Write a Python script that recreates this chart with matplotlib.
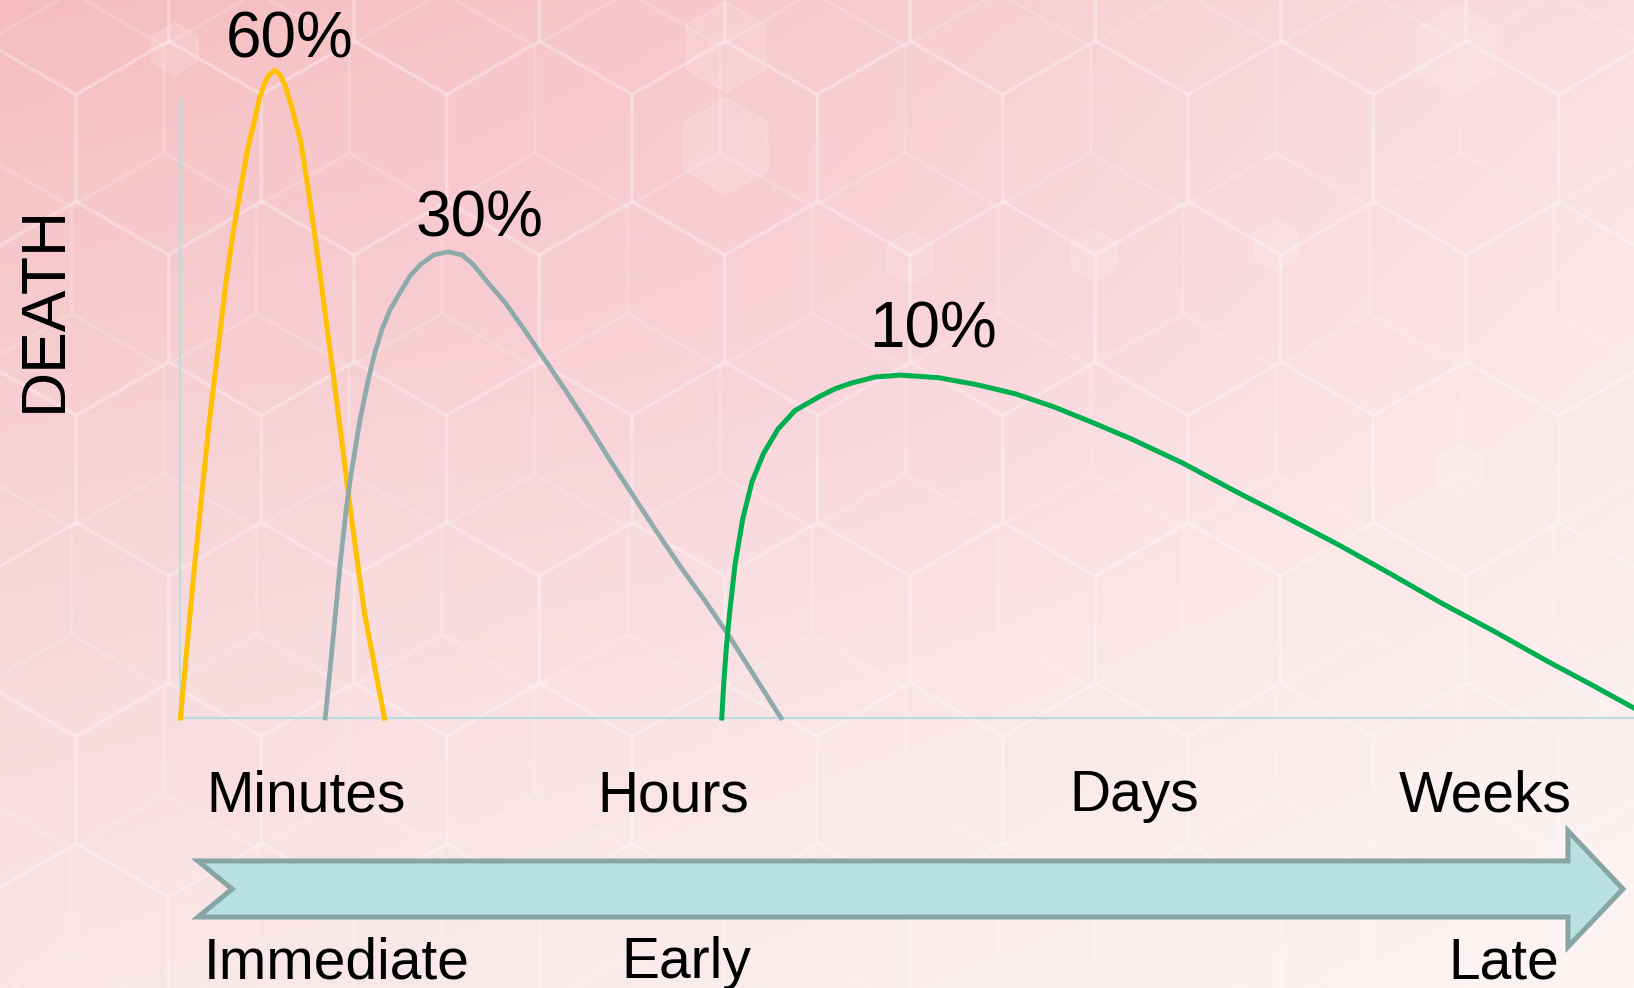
import numpy as np
import matplotlib
matplotlib.use('Agg')
from matplotlib import pyplot as plt
from matplotlib.patches import Polygon, RegularPolygon

plt.rcParams['font.family'] = ['Liberation Sans', 'DejaVu Sans']

# curves: x = time position (0..100), y = relative height (y-axis = 1)
fast_x = [0.03, 1.0, 1.99, 2.61, 3.16, 3.65, 4.17, 4.61, 5.16, 5.50, 5.78, 6.05, 6.51,
          6.88, 7.22, 7.70, 8.30, 8.80, 9.28, 10.57, 11.80, 12.69, 14.06]
fast_y = [0.0, 0.245, 0.473, 0.594, 0.702, 0.782, 0.853, 0.913, 0.968, 1.002, 1.021, 1.035, 1.045,
          1.037, 1.021, 0.984, 0.930, 0.856, 0.777, 0.549, 0.321, 0.169, 0.0]

early_x = [9.99, 10.52, 11.0, 11.42, 11.79, 12.38, 12.98, 13.41, 13.88, 14.44, 15.13, 15.82, 16.57,
           17.47, 18.43, 19.39, 20.15, 21.18, 22.33, 23.66, 25.03, 26.55, 28.06, 29.57, 31.16,
           32.74, 34.39, 36.11, 37.80, 39.55, 41.33]
early_y = [0.0, 0.126, 0.245, 0.335, 0.397, 0.481, 0.549, 0.590, 0.626, 0.658, 0.686, 0.713, 0.732,
           0.747, 0.752, 0.747, 0.732, 0.702, 0.671, 0.627, 0.580, 0.527, 0.473, 0.416, 0.359,
           0.302, 0.245, 0.189, 0.131, 0.066, 0.0]

late_x = [37.26, 37.41, 37.59, 37.80, 38.17, 38.70, 39.34, 40.14, 41.13, 42.30, 44.02, 45.05, 46.15,
          47.80, 49.55, 52.13, 54.73, 57.43, 60.08, 62.72, 65.44, 68.98, 72.56, 76.13, 79.71,
          83.29, 86.86, 90.44, 94.01, 96.97, 100.0]
late_y = [0.0, 0.061, 0.118, 0.169, 0.247, 0.321, 0.381, 0.427, 0.466, 0.496, 0.519, 0.531, 0.540,
          0.550, 0.553, 0.549, 0.538, 0.523, 0.502, 0.477, 0.450, 0.411, 0.366, 0.323, 0.279,
          0.232, 0.184, 0.139, 0.092, 0.055, 0.016]

peak_labels = ['60%', '30%', '10%']
peak_label_x = [7.51, 20.6, 51.82]
peak_label_y = [1.066, 0.777, 0.598]

time_labels = ['Minutes', 'Hours', 'Days', 'Weeks']
time_label_x = [1.79, 28.68, 61.2, 83.84]
phase_labels = ['Immediate', 'Early', 'Late']
phase_label_x = [1.65, 30.33, 87.21]

W, H = 1634, 988
fig = plt.figure(figsize=(W / 100, H / 100), dpi=100)

# --- background: pink gradient + faint hexagons (pixel coordinates)
bg = fig.add_axes([0, 0, 1, 1])
u = np.linspace(0, 1, 400)[None, :, None]
v = np.linspace(0, 1, 240)[:, None, None]
tl = np.array([245, 188, 190]); tr = np.array([249, 222, 225])
bl = np.array([249, 229, 231]); br = np.array([253, 245, 244])
top = tl * (1 - u) + tr * u
bot = bl * (1 - u) + br * u
vv = v ** 0.8
img = (top * (1 - vv) + bot * vv) / 255.0
# a bit more pink in the upper middle
blob = np.exp(-(((u - 0.45) / 0.35) ** 2 + ((v - 0.3) / 0.3) ** 2))
img = img - blob * np.array([0.0, 0.03, 0.015])
bg.imshow(np.clip(img, 0, 1), extent=(0, W, H, 0), aspect='auto', interpolation='bilinear')

R = 107
dx = R * np.sqrt(3)
for cx0, cy0, a in [(910, 469, 0.17), (1276, 260, 0.09)]:
    for r in range(-4, 6):
        for k in range(-7, 8):
            cx = cx0 + k * dx + (dx / 2 if r % 2 else 0)
            cy = cy0 + r * 1.5 * R
            if -R < cx < W + R and -R < cy < H + R:
                bg.add_patch(RegularPolygon((cx, cy), 6, radius=R, orientation=0,
                                            fill=False, ec='white', lw=2.5, alpha=a))
for cx, cy, rr in [(175, 49, 26), (910, 258, 26), (1094, 255, 26), (726, 47, 45),
                   (726, 146, 48), (1457, 50, 45), (1460, 470, 26), (1276, 245, 25)]:
    bg.add_patch(RegularPolygon((cx, cy), 6, radius=rr, orientation=0,
                                fc='white', ec='white', lw=2, alpha=0.13))
bg.set_xlim(0, W)
bg.set_ylim(H, 0)
bg.axis('off')

# --- main chart
X0, XS, Y0, YS = 180, 14.54, 718, 620
ax = fig.add_axes([0, 0, 1, 1])
ax.patch.set_alpha(0)
ax.set_xlim(-X0 / XS, (W - X0) / XS)
ax.set_ylim(-(H - Y0) / YS, Y0 / YS)
ax.axis('off')

axis_c = '#BCDDE0'
ax.plot([0, 100], [0, 0], color=axis_c, lw=1.6, solid_capstyle='butt', zorder=2)
ax.plot([0, 0], [0, 1], color=axis_c, lw=1.6, solid_capstyle='butt', zorder=2)

ax.plot(fast_x, fast_y, color='#FFC000', lw=3.6, solid_joinstyle='round', zorder=3)
ax.plot(early_x, early_y, color='#8FAAAC', lw=3.4, solid_joinstyle='round', zorder=3)
ax.plot(late_x, late_y, color='#00B050', lw=3.6, solid_joinstyle='round', zorder=3)

for lab, x, y in zip(peak_labels, peak_label_x, peak_label_y):
    ax.text(x, y, lab, fontsize=46, ha='center', va='baseline', color='black')

ax.text(-136 / XS, 410 / YS, 'DEATH', fontsize=45, rotation=90,
        ha='center', va='center', color='black')

for lab, x in zip(time_labels, time_label_x):
    ax.text(x, -93 / YS, lab, fontsize=41, ha='left', va='baseline', color='black')
for lab, x in zip(phase_labels, phase_label_x):
    ax.text(x, -260 / YS, lab, fontsize=41, ha='left', va='baseline', color='black', zorder=5)

# timeline arrow
arrow_x = [1.24, 3.58, 1.24, 95.46, 95.46, 99.24, 95.46, 95.46]
arrow_y = [-0.2306, -0.2758, -0.321, -0.321, -0.369, -0.2758, -0.182, -0.2306]
ax.add_patch(Polygon(list(zip(arrow_x, arrow_y)), closed=True, fc='#B9E0E2',
                     ec='#88A5A6', lw=3.6, joinstyle='miter', zorder=4))

plt.savefig('out.png', dpi=100)
